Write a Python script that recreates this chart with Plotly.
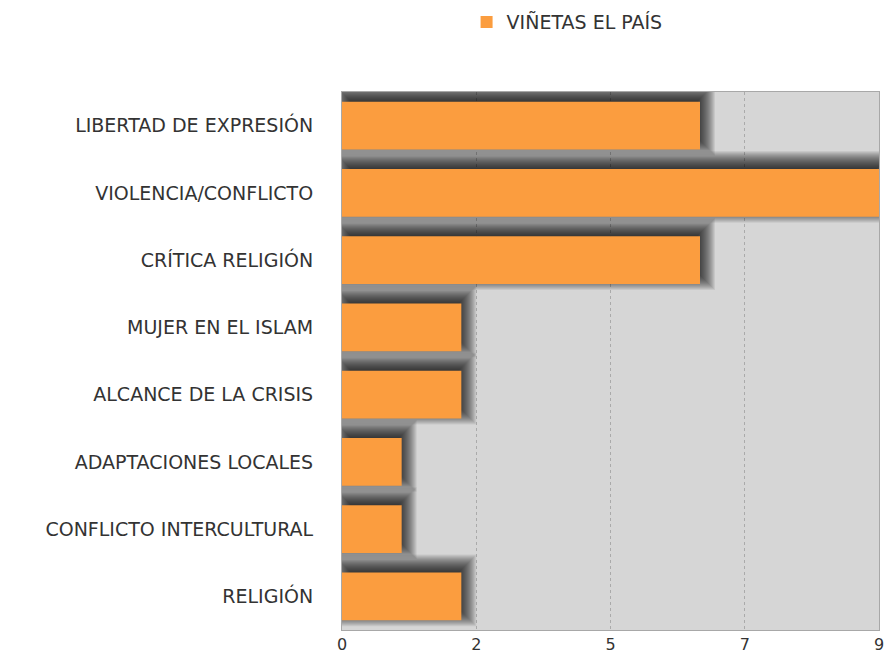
import plotly.graph_objects as go

categories = ["LIBERTAD DE EXPRESIÓN", "VIOLENCIA/CONFLICTO", "CRÍTICA RELIGIÓN",
              "MUJER EN EL ISLAM", "ALCANCE DE LA CRISIS", "ADAPTACIONES LOCALES",
              "CONFLICTO INTERCULTURAL", "RELIGIÓN"]
values = [6, 9, 6, 2, 2, 1, 1, 2]
series_name = "VIÑETAS EL PAÍS"
tick_vals = [0, 2.25, 4.5, 6.75, 9]
tick_text = ["0", "2", "5", "7", "9"]

BAR_W = 0.71
PX_X = 537 / 9.0      # px per x unit
PX_Y = 538 / 8.0      # px per category

fig = go.Figure()

# soft drop shadow built from stacked translucent layers (offset up/right)
sx = 3 / PX_X
sy = 6 / PX_Y
for e_px in range(-8, 13):
    ex = e_px / PX_X
    ey = e_px / PX_Y
    fig.add_trace(go.Bar(
        y=categories, x=[v + 2 * ex for v in values], base=sx - ex,
        orientation="h", width=BAR_W + 2 * ey, offset=-BAR_W / 2 - sy - ey,
        marker=dict(color="rgba(0,0,0,0.065)", line=dict(width=0)),
        showlegend=False, hoverinfo="skip"))

fig.add_trace(go.Bar(
    y=categories, x=values, orientation="h", name=series_name,
    width=BAR_W, offset=-BAR_W / 2,
    marker=dict(color="#FB9D3F", line=dict(width=0))))

fig.update_layout(
    width=884, height=663,
    margin=dict(l=342, r=5, t=92, b=33, autoexpand=False),
    paper_bgcolor="white", plot_bgcolor="#D6D6D6",
    barmode="overlay",
    font=dict(family="DejaVu Sans", size=19, color="#333333"),
    showlegend=True,
    legend=dict(orientation="h", x=0.232, xanchor="left", y=1.13, yanchor="middle",
                font=dict(size=19, color="#333333"), bgcolor="rgba(0,0,0,0)"),
    xaxis=dict(range=[0, 9], tickvals=tick_vals, ticktext=tick_text,
               showgrid=True, gridcolor="#AAAAAA", griddash="dot", gridwidth=1,
               zeroline=False, showline=True, linecolor="#A8A8A8", linewidth=1,
               mirror=True, ticks="", ticklabeloverflow="allow",
               tickfont=dict(size=16, color="#333333")),
    yaxis=dict(range=[len(categories) - 0.5, -0.5], showgrid=False, zeroline=False,
               showline=True, linecolor="#A8A8A8", linewidth=1, mirror=True,
               ticks="", ticklabelstandoff=24,
               tickfont=dict(size=19, color="#333333")),
)

fig.write_html("out.html", config={"displayModeBar": False},
               post_script="document.body.style.margin='0';document.body.style.overflow='hidden';")
